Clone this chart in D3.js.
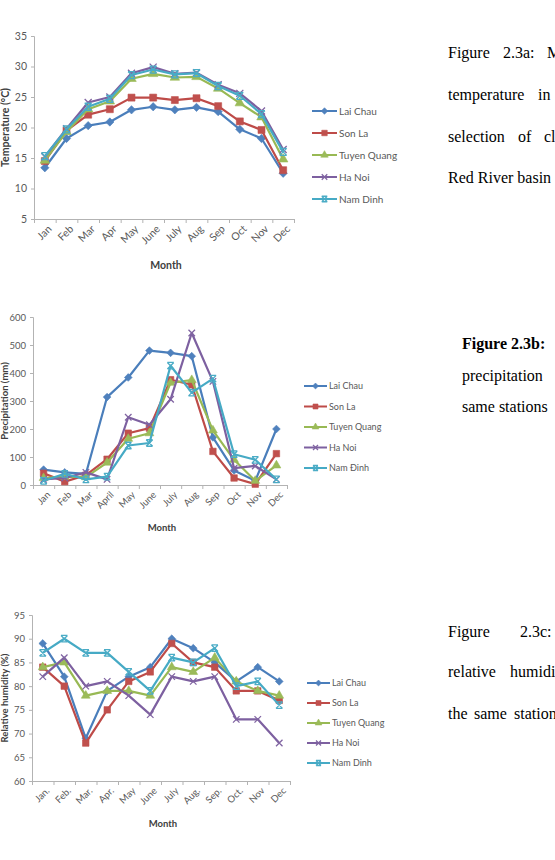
<!DOCTYPE html>
<html>
<head>
<meta charset="utf-8">
<script src="https://cdn.jsdelivr.net/npm/d3@7"></script>
<style>
  body { margin: 0; background: #fff; }
  svg { display: block; }
  .tick text { fill: #595959; font-family: Lato, "Open Sans", sans-serif; }
  .domain, .tick line { stroke: #b3b3b3; }
</style>
</head>
<body>
<div id="chart"></div>
<script>
// ---- data ----
const months = ["Jan", "Feb", "Mar", "Apr", "May", "June", "July", "Aug", "Sep", "Oct", "Nov", "Dec"];
const monthsPrecip = ["Jan", "Feb", "Mar", "April", "May", "June", "July", "Aug", "Sep", "Oct", "Nov", "Dec"];
const monthsHumid = ["Jan.", "Feb.", "Mar.", "Apr.", "May", "June", "July", "Aug.", "Sep.", "Oct.", "Nov", "Dec"];

const stations = ["Lai Chau", "Son La", "Tuyen Quang", "Ha Noi", "Nam Dinh"];
const stationsPrecip = ["Lai Chau", "Son La", "Tuyen Quang", "Ha Noi", "Nam Đinh"];

const tempLaiChau   = [13.4, 18.2, 20.3, 20.9, 22.9, 23.4, 22.9, 23.3, 22.6, 19.7, 18.2, 12.5];
const tempSonLa     = [14.5, 19.5, 22.1, 23.0, 24.9, 24.9, 24.5, 24.8, 23.5, 21.0, 19.6, 13.0];
const tempTuyenQuang= [14.6, 19.3, 23.0, 24.3, 28.0, 28.8, 28.2, 28.3, 26.4, 24.0, 21.7, 14.8];
const tempHaNoi     = [15.2, 19.8, 24.1, 25.0, 28.9, 29.9, 28.8, 29.0, 27.0, 25.6, 22.7, 16.4];
const tempNamDinh   = [15.3, 19.7, 23.4, 24.7, 28.6, 29.5, 28.7, 28.9, 26.8, 25.2, 22.2, 16.0];

const rainLaiChau   = [55, 45, 40, 314, 384, 480, 472, 460, 170, 52, 15, 200];
const rainSonLa     = [42, 12, 35, 92, 185, 203, 376, 358, 120, 25, 3, 112];
const rainTuyenQuang= [25, 30, 28, 80, 165, 185, 365, 375, 195, 90, 15, 70];
const rainHaNoi     = [20, 25, 45, 20, 242, 215, 306, 543, 370, 60, 68, 20];
const rainNamDinh   = [15, 40, 20, 30, 141, 150, 426, 330, 380, 110, 90, 20];

const humLaiChau    = [89, 82, 69, 79, 82, 84, 90, 88, 85, 81, 84, 81];
const humSonLa      = [84, 80, 68, 75, 81, 83, 89, 85, 84, 79, 79, 77];
const humTuyenQuang = [84, 85, 78, 79, 79, 78, 84, 83, 86, 81, 79, 78];
const humHaNoi      = [82, 86, 80, 81, 78, 74, 82, 81, 82, 73, 73, 68];
const humNamDinh    = [87, 90, 87, 87, 83, 79, 86, 85, 88, 80, 81, 76];

const tempTicks = [5, 10, 15, 20, 25, 30, 35];
const rainTicks = [0, 100, 200, 300, 400, 500, 600];
const humTicks  = [60, 65, 70, 75, 80, 85, 90, 95];

// ---- styles ----
const lineColors   = ["#4A7EBB", "#BE4B48", "#98B954", "#7D60A0", "#46AAC5"];
const markerColors = ["#4F81BD", "#C0504D", "#9BBB59", "#8064A2", "#4BACC6"];
const fontSans = "Lato, 'Open Sans', sans-serif";
const fontSerif = "'Liberation Serif', 'Times New Roman', serif";

const svg = d3.select("#chart").append("svg")
  .attr("width", 555)
  .attr("height", 860)
  .style("background", "#fff");

// marker shapes: diamond, square, triangle, x, star
function markerPath(i, s) {
  if (i === 0) return d3.symbol(d3.symbolDiamond2 || d3.symbolDiamond, s * s * 0.9)();
  if (i === 1) return d3.symbol(d3.symbolSquare, s * s)();
  if (i === 2) return d3.symbol(d3.symbolTriangle, s * s * 0.8)();
  const h = s / 2;
  if (i === 3) return `M${-h},${-h}L${h},${h}M${-h},${h}L${h},${-h}`;
  return `M${-h},${-h}L${h},${h}M${-h},${h}L${h},${-h}M${-h},${-h}L${h},${-h}M${-h},${h}L${h},${h}`;
}

function drawMarker(sel, i, s) {
  const stroked = i >= 3;
  sel.append("path")
    .attr("d", markerPath(i, s))
    .attr("fill", stroked ? "none" : markerColors[i])
    .attr("stroke", markerColors[i])
    .attr("stroke-width", stroked ? 1.3 : 0.6);
}

function drawChart(cfg) {
  const g = svg.append("g");

  const x = d3.scaleBand().domain(cfg.months).range([cfg.left, cfg.right]);
  const y = d3.scaleLinear().domain(cfg.domain).range([cfg.bottom, cfg.top]);
  const xEdges = d3.scaleLinear().domain([0, cfg.months.length]).range([cfg.left, cfg.right]);

  // y axis
  const yAx = g.append("g")
    .attr("transform", `translate(${cfg.left},0)`)
    .call(d3.axisLeft(y).tickValues(cfg.ticks).tickSize(3).tickPadding(4));
  yAx.selectAll("text").style("font-size", cfg.tickFont + "px");

  // x axis: ticks between categories
  g.append("g")
    .attr("transform", `translate(0,${cfg.bottom})`)
    .call(d3.axisBottom(xEdges).ticks(cfg.months.length).tickSize(4).tickFormat(""));

  // x labels at band centres, rotated
  const xAx = g.append("g")
    .attr("transform", `translate(0,${cfg.bottom})`)
    .call(d3.axisBottom(x).tickSize(0));
  xAx.select(".domain").remove();
  xAx.selectAll("text")
    .attr("x", 0).attr("y", 0).attr("dy", "0.35em")
    .attr("transform", "translate(5,8) rotate(-45)")
    .style("text-anchor", "end")
    .style("font-size", cfg.tickFont + "px");

  // axis titles
  g.append("text")
    .attr("x", (cfg.left + cfg.right) / 2 + 2)
    .attr("y", cfg.monthY)
    .attr("text-anchor", "middle")
    .attr("font-family", fontSans)
    .attr("font-weight", "bold")
    .attr("font-size", cfg.titleFont)
    .attr("fill", "#404040")
    .text("Month");

  g.append("text")
    .attr("transform", `translate(${cfg.yTitleX},${(cfg.top + cfg.bottom) / 2}) rotate(-90)`)
    .attr("text-anchor", "middle")
    .attr("font-family", fontSans)
    .attr("font-weight", "bold")
    .attr("font-size", cfg.titleFont)
    .attr("fill", "#404040")
    .text(cfg.yTitle);

  const line = d3.line()
    .x((d, j) => x(cfg.months[j]) + x.bandwidth() / 2)
    .y(d => y(d));

  cfg.series.forEach((vals, i) => {
    g.append("path")
      .datum(vals)
      .attr("d", line)
      .attr("fill", "none")
      .attr("stroke", lineColors[i])
      .attr("stroke-width", 2.2)
      .attr("stroke-linejoin", "round");

    g.selectAll(null)
      .data(vals)
      .enter()
      .append("g")
      .attr("transform", (d, j) => `translate(${x(cfg.months[j]) + x.bandwidth() / 2},${y(d)})`)
      .each(function () { drawMarker(d3.select(this), i, cfg.markerSize); });
  });

  // legend
  const leg = g.append("g");
  cfg.names.forEach((name, i) => {
    const ly = cfg.legY + i * cfg.legStep;
    leg.append("line")
      .attr("x1", cfg.legX).attr("x2", cfg.legX + cfg.legLine)
      .attr("y1", ly).attr("y2", ly)
      .attr("stroke", lineColors[i])
      .attr("stroke-width", 2);
    const m = leg.append("g").attr("transform", `translate(${cfg.legX + cfg.legLine / 2},${ly})`);
    drawMarker(m, i, cfg.markerSize - 1.5);
    leg.append("text")
      .attr("x", cfg.legX + cfg.legLine + 2)
      .attr("y", ly)
      .attr("dy", "0.35em")
      .attr("font-family", fontSans)
      .attr("font-size", cfg.legFont)
      .attr("fill", "#595959")
      .text(name);
  });
}

drawChart({
  months: months, domain: [5, 35], ticks: tempTicks,
  left: 34, right: 294, top: 36, bottom: 219,
  series: [tempLaiChau, tempSonLa, tempTuyenQuang, tempHaNoi, tempNamDinh],
  names: stations,
  yTitle: "Temperature (°C)", yTitleX: 9, monthY: 269,
  tickFont: 10.5, titleFont: 10.5, markerSize: 7,
  legX: 312, legLine: 25, legY: 111, legStep: 22, legFont: 10
});

drawChart({
  months: monthsPrecip, domain: [0, 600], ticks: rainTicks,
  left: 33, right: 287, top: 317, bottom: 485,
  series: [rainLaiChau, rainSonLa, rainTuyenQuang, rainHaNoi, rainNamDinh],
  names: stationsPrecip,
  yTitle: "Precipitation (mm)", yTitleX: 8, monthY: 531,
  tickFont: 9.5, titleFont: 9.5, markerSize: 6.5,
  legX: 304, legLine: 23, legY: 386, legStep: 20.5, legFont: 9
});

drawChart({
  months: monthsHumid, domain: [60, 95], ticks: humTicks,
  left: 32, right: 290, top: 615, bottom: 781,
  series: [humLaiChau, humSonLa, humTuyenQuang, humHaNoi, humNamDinh],
  names: stations,
  yTitle: "Relative humidity (%)", yTitleX: 8, monthY: 827,
  tickFont: 9.5, titleFont: 9.5, markerSize: 6.5,
  legX: 307, legLine: 23, legY: 683, legStep: 20, legFont: 9
});

// ---- captions (justified text, cut at the right edge) ----
const captions = [
  { y: 58,  bold: false, words: [["Figure", 448], ["2.3a:", 503], ["Mean", 547]] },
  { y: 100, bold: false, words: [["temperature", 448], ["in", 538]] },
  { y: 142, bold: false, words: [["selection", 448], ["of", 518], ["climate", 544]] },
  { y: 183, bold: false, words: [["Red River basin", 448]] },
  { y: 349, bold: true,  words: [["Figure 2.3b:", 462]] },
  { y: 381, bold: false, words: [["precipitation", 462]] },
  { y: 412, bold: false, words: [["same stations", 462]] },
  { y: 637, bold: false, words: [["Figure", 448], ["2.3c:", 520]] },
  { y: 677, bold: false, words: [["relative", 448], ["humidity", 510]] },
  { y: 719, bold: false, words: [["the", 448], ["same", 474], ["stations", 514]] }
];

captions.forEach(c => {
  c.words.forEach(w => {
    svg.append("text")
      .attr("x", w[1])
      .attr("y", c.y)
      .attr("font-family", fontSerif)
      .attr("font-size", 16)
      .attr("font-weight", c.bold ? "bold" : "normal")
      .attr("fill", "#000")
      .text(w[0]);
  });
});
</script>
</body>
</html>
